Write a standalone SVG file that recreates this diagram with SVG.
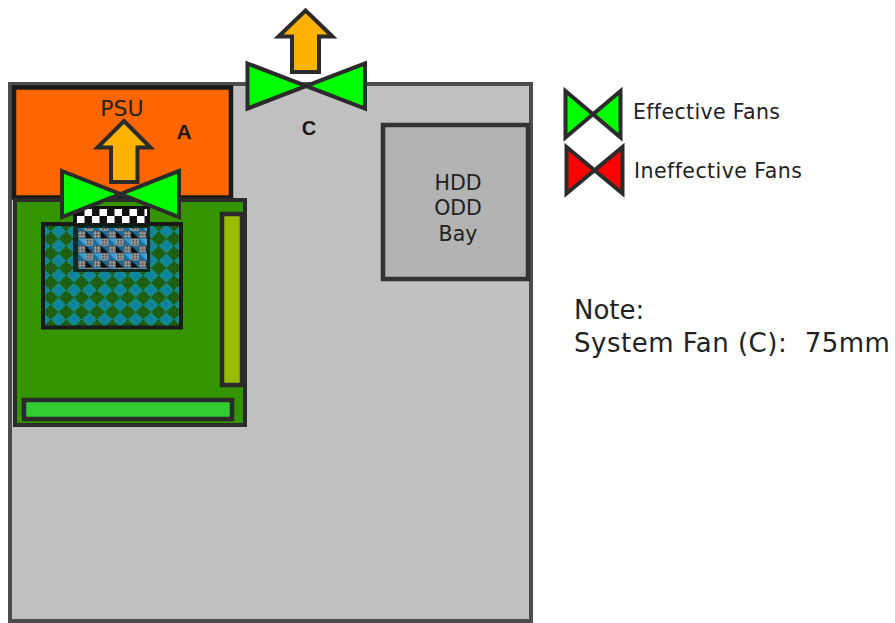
<svg xmlns="http://www.w3.org/2000/svg" width="895" height="623" viewBox="0 0 895 623">
<style>
text{font-family:"DejaVu Sans",Verdana,sans-serif;fill:#222}
.fan{stroke:#2b2b2b;stroke-width:4;stroke-miterlimit:10}
.arrow{fill:#ffb300;stroke:#2b2b2b;stroke-width:4;stroke-miterlimit:10}
.c{text-anchor:middle}
.b{font-family:"Liberation Sans",Arial,sans-serif;font-weight:bold;fill:#1a1a1a}
</style>
<defs>
<pattern id="dk" width="3" height="3" patternUnits="userSpaceOnUse" x="41" y="224">
<rect width="3" height="3" fill="#2a7a18"/><rect width="1.500" height="1.500" fill="#123a0c"/><rect x="1.500" y="1.500" width="1.500" height="1.500" fill="#17500f"/>
</pattern>
<pattern id="dm" width="15.4" height="14.7" patternUnits="userSpaceOnUse" x="35.500" y="224">
<rect width="15.4" height="14.7" fill="url(#dk)"/>
<path d="M7.7 0L15.4 7.35L7.7 14.7L0 7.35Z" fill="#128a8c"/>
<path d="M7.7 3.700L11.500 7.350L7.700 11L3.900 7.350Z" fill="#1080a8"/>
</pattern>
<pattern id="sp" width="3" height="3" patternUnits="userSpaceOnUse">
<rect width="3" height="3" fill="#9a9a9a"/><rect width="1.500" height="1.500" fill="#3a3a3a"/>
</pattern>
<pattern id="chip" width="15.2" height="14.7" patternUnits="userSpaceOnUse" x="78" y="231">
<rect width="15.2" height="14.700" fill="#0d0d0d"/>
<rect width="7.600" height="7.350" fill="url(#sp)"/>
<rect x="7.600" y="7.350" width="7.600" height="7.350" fill="url(#sp)"/>
<path d="M7.600 7.350V14.700H0V7.350Z" fill="#1b6a98"/>
<path d="M0 7.350H7.600V14.700Z" fill="#3aa0d6"/>
<path d="M7.600 0H15.200V7.350Z" fill="#1b6a98"/>
</pattern>
<pattern id="chk" width="15" height="14" patternUnits="userSpaceOnUse" x="77" y="209">
<rect width="15" height="14" fill="#111"/>
<rect x="7.500" width="7.500" height="7" fill="#fff"/><rect y="7" width="7.500" height="7" fill="#fff"/>
</pattern>
</defs>
<g id="case"><rect x="10" y="84" width="521" height="537" fill="#c0c0c0" stroke="#4d4d4d" stroke-width="4"/></g>
<g id="psu">
<rect x="14" y="87.500" width="217" height="110" fill="#ff6600" stroke="#1a1a1a" stroke-width="4.500"/>
<text class="c" x="122" y="116" font-size="22">PSU</text>
<text class="b c" x="184" y="139" font-size="21">A</text>
</g>
<g id="motherboard">
<rect x="15" y="200" width="230" height="225" fill="#359500" stroke="#2b2b2b" stroke-width="4"/>
<rect x="222" y="214" width="20" height="171" fill="#99bb00" stroke="#2b2b2b" stroke-width="4.500"/>
<rect x="24" y="400" width="208" height="19" fill="#33cc33" stroke="#2b2b2b" stroke-width="4.500"/>
</g>
<g id="cpu">
<rect x="43" y="224" width="138" height="103.500" fill="url(#dm)" stroke="#1a1a1a" stroke-width="4"/>
<rect x="73" y="224" width="77" height="48" fill="#0d1a14" fill-opacity=".8"/>
<rect x="78" y="228" width="69" height="41" fill="url(#chip)"/>
<rect x="73" y="206" width="77" height="17" fill="#111"/>
<rect x="77" y="209" width="70" height="14" fill="url(#chk)"/>
</g>
<g id="hdd-bay">
<rect x="383" y="125" width="145" height="154" fill="#b3b3b3" stroke="#333" stroke-width="4.500"/>
<text class="c" x="458" y="190" font-size="20.500">HDD</text>
<text class="c" x="458" y="215" font-size="20.500">ODD</text>
<text class="c" x="458" y="241" font-size="20.500">Bay</text>
</g>
<g id="connectors"></g>
<g id="fan-a">
<path class="arrow" d="M124 121L150.500 147.500H137.500V182H111V147.500H97.500Z"/>
<path class="fan" d="M62 171L179 217V171L62 217Z" fill="#00ff00"/>
</g>
<g id="fan-c">
<path class="arrow" d="M305.500 10.500L332.500 36.500H319V72H292V36.500H278.500Z"/>
<path class="fan" d="M247.500 63.500L365 108.500V63.500L247.500 108.500Z" fill="#00ff00"/>
<text class="b c" x="309" y="135" font-size="20">C</text>
</g>
<g id="legend-effective">
<path class="fan" d="M565.500 91L620.500 137.500V91L565.500 137.500Z" fill="#00ff00"/>
<text x="633" y="119" font-size="20.500" letter-spacing=".35">Effective Fans</text>
</g>
<g id="legend-ineffective">
<path class="fan" d="M566.500 147L622.500 193.500V147L566.500 193.500Z" fill="#ff0000"/>
<text x="634" y="178" font-size="20.500" letter-spacing=".45">Ineffective Fans</text>
</g>
<g id="note">
<text x="574" y="319" font-size="26">Note:</text>
<text x="574" y="352" font-size="26" letter-spacing=".5" xml:space="preserve">System Fan (C):  75mm</text>
</g>
</svg>
